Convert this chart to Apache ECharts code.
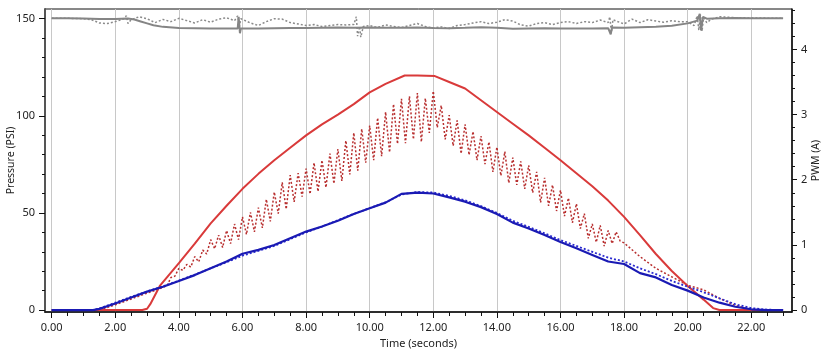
<!DOCTYPE html>
<html>
<head>
<meta charset="utf-8">
<script src="https://cdn.jsdelivr.net/npm/echarts@6/dist/echarts.min.js"></script>
<style>
  html, body { margin: 0; padding: 0; background: #fff; }
  #chart { width: 825px; height: 354px; }
</style>
</head>
<body>
<div id="chart"></div>
<script>
// tick values
const xMajorTicks = [0, 2, 4, 6, 8, 10, 12, 14, 16, 18, 20, 22]
const xMinorTicks = [0, 0.5, 1, 1.5, 2, 2.5, 3, 3.5, 4, 4.5, 5, 5.5, 6, 6.5, 7, 7.5, 8, 8.5, 9, 9.5, 10, 10.5, 11, 11.5,
  12, 12.5, 13, 13.5, 14, 14.5, 15, 15.5, 16, 16.5, 17, 17.5, 18, 18.5, 19, 19.5, 20, 20.5, 21, 21.5, 22, 22.5, 23]
const psiTicks = [0, 50, 100, 150]
const psiMinorTicks = [0, 10, 20, 30, 40, 50, 60, 70, 80, 90, 100, 110, 120, 130, 140, 150]
const ampTicks = [0, 1, 2, 3, 4]
const ampMinorTicks = [0, 0.2, 0.4, 0.6, 0.8, 1, 1.2, 1.4, 1.6, 1.8, 2, 2.2, 2.4, 2.6, 2.8, 3, 3.2, 3.4, 3.6, 3.8, 4, 4.2, 4.4, 4.6]

// supply pressure (PSI)
const supplyTime = [0, 0.5, 1, 1.5, 2, 2.4, 2.6, 2.8, 3.0, 3.2, 3.5, 4.0, 4.5, 5, 5.5, 5.85, 5.88, 5.92, 5.95, 6.5, 7, 7.5, 8,
  8.5, 9, 9.5, 10, 10.5, 11, 11.5, 12, 12.5, 13, 13.5, 14, 14.5, 15, 15.5, 16, 16.5, 17, 17.5, 17.58, 17.62, 18, 18.5, 19,
  19.5, 20, 20.3, 20.38, 20.42, 20.48, 20.6, 21, 21.5, 22, 22.5, 23]
const supplyPsi = [150.3, 150.2, 150.1, 149.9, 149.8, 150.1, 149.6, 148.6, 147.6, 146.6, 145.8, 145.2, 145.1, 145, 145, 145,
  151, 142.5, 145, 144.9, 145.1, 145.2, 145.2, 145.4, 145.5, 145.3, 145.5, 145.4, 145.3, 145.5, 145.2, 145.1, 145.3, 145.6,
  145.4, 144.8, 145, 145.1, 145, 145, 145, 145.1, 142, 145.5, 145.3, 145.6, 145.9, 146.4, 147.6, 149, 152.5, 144, 151, 150,
  150.3, 150.4, 150.3, 150.2, 150.2]

const supplyFbTime = [0, 0.5, 1, 1.25, 1.5, 1.75, 2, 2.25, 2.35, 2.4, 2.5, 2.75, 3, 3.25, 3.5, 3.75, 4, 4.25, 4.5, 4.75, 5,
  5.25, 5.5, 5.75, 5.85, 5.9, 5.95, 6.25, 6.5, 6.75, 7, 7.25, 7.5, 7.75, 8, 8.25, 8.5, 8.75, 9, 9.25, 9.5, 9.58, 9.62, 9.68,
  9.72, 9.8, 10, 10.25, 10.5, 10.75, 11, 11.25, 11.5, 11.75, 12, 12.25, 12.5, 12.75, 13, 13.25, 13.5, 13.75, 14, 14.25, 14.5,
  14.75, 15, 15.25, 15.5, 15.75, 16, 16.25, 16.5, 16.75, 17, 17.25, 17.5, 17.55, 17.6, 17.65, 17.75, 18, 18.25, 18.5, 18.75,
  19, 19.25, 19.5, 19.75, 20, 20.2, 20.3, 20.35, 20.4, 20.45, 20.5, 20.6, 20.75, 21, 21.25, 21.5, 22, 22.5, 23]
const supplyFbPsi = [150.3, 150.2, 150, 149.5, 147.8, 147.5, 148.5, 149.8, 151.5, 147.5, 149.5, 151, 150, 148, 149.6, 148.5,
  150.2, 149, 147.8, 149.5, 148.2, 149.8, 150.5, 149, 151.5, 146, 150, 147.8, 146.5, 148.5, 150, 149.8, 148, 147.3, 146.5,
  147, 146, 146.5, 147, 146.8, 147, 151, 141, 146, 140.5, 146, 146.5, 145.5, 146.8, 146, 145.5, 146.5, 147.5, 146, 145.2,
  145.8, 145, 146.5, 147, 147.8, 148.5, 147.5, 148.2, 149.5, 148.8, 146.8, 146.2, 147.5, 148, 147, 148, 148.5, 147.5, 148.5,
  148, 149.3, 148, 151, 143, 149.5, 148.8, 147.3, 149.8, 148, 149.5, 148.8, 148.2, 149, 148.5, 148.5, 146.5, 151.5, 144, 152,
  143.5, 150.5, 148, 149.8, 151, 150.8, 150.5, 150.4, 150.3, 150.2]

// PWM command (A)
const pwmTime = [0, 2.85, 3.0, 3.1, 3.4, 4.0, 4.5, 5.0, 5.5, 6.0, 6.5, 7.0, 7.5, 8.0, 8.5, 9.0, 9.5, 10.0, 10.5, 11.1, 11.5,
  12.05, 12.5, 13.0, 13.5, 14.0, 14.5, 15.0, 15.5, 16.0, 16.5, 17.0, 17.5, 18.0, 18.5, 19.0, 19.5, 20.0, 20.5, 20.8, 21.0, 23]
const pwmCmd = [0, 0, 0.02, 0.09, 0.37, 0.72, 1.02, 1.33, 1.6, 1.86, 2.09, 2.3, 2.49, 2.68, 2.85, 3.0, 3.16, 3.34, 3.47, 3.6,
  3.6, 3.59, 3.5, 3.4, 3.22, 3.04, 2.86, 2.68, 2.49, 2.3, 2.1, 1.9, 1.68, 1.43, 1.15, 0.86, 0.6, 0.37, 0.16, 0.03, 0, 0]

// PWM measured current with dither (A)
const currentTime = [0, 1.5, 2.0, 2.5, 3.0, 3.25,
  3.5, 3.625, 3.75, 3.875, 4.0, 4.125, 4.25, 4.375, 4.5, 4.625, 4.75, 4.875, 5.0, 5.125, 5.25, 5.375, 5.5, 5.625, 5.75, 5.875,
  6.0, 6.125, 6.25, 6.375, 6.5, 6.625, 6.75, 6.875, 7.0, 7.125, 7.25, 7.375, 7.5, 7.625, 7.75, 7.875, 8.0, 8.125, 8.25, 8.375,
  8.5, 8.625, 8.75, 8.875, 9.0, 9.125, 9.25, 9.375, 9.5, 9.625, 9.75, 9.875, 10.0, 10.125, 10.25, 10.375, 10.5, 10.625, 10.75,
  10.875, 11.0, 11.125, 11.25, 11.375, 11.5, 11.625, 11.75, 11.875, 12.0, 12.125, 12.25, 12.375, 12.5, 12.625, 12.75, 12.875,
  13.0, 13.125, 13.25, 13.375, 13.5, 13.625, 13.75, 13.875, 14.0, 14.125, 14.25, 14.375, 14.5, 14.625, 14.75, 14.875, 15.0,
  15.125, 15.25, 15.375, 15.5, 15.625, 15.75, 15.875, 16.0, 16.125, 16.25, 16.375, 16.5, 16.625, 16.75, 16.875, 17.0, 17.125,
  17.25, 17.375, 17.5, 17.625, 17.75, 17.875, 18.0, 18.5, 19.0, 19.5, 20.0, 20.5, 21.0, 21.5, 22.0, 22.25, 23]
const currentAmp = [0, 0, 0.08, 0.17, 0.26, 0.3,
  0.35, 0.37, 0.5, 0.52, 0.64, 0.61, 0.7, 0.66, 0.82, 0.74, 0.92, 0.86, 1.08, 0.94, 1.15, 0.96, 1.22, 1.02, 1.32, 1.08,
  1.43, 1.16, 1.5, 1.2, 1.57, 1.26, 1.7, 1.36, 1.81, 1.48, 1.96, 1.55, 2.07, 1.66, 2.1, 1.74, 2.17, 1.78, 2.26, 1.82,
  2.3, 1.88, 2.4, 1.94, 2.47, 1.98, 2.6, 2.08, 2.72, 2.14, 2.78, 2.26, 2.83, 2.3, 2.95, 2.36, 3.04, 2.42, 3.16,
  2.55, 3.24, 2.56, 3.28, 2.62, 3.33, 2.58, 3.25, 2.72, 3.36, 2.8, 3.14, 2.62, 2.99, 2.52, 2.91, 2.4,
  2.85, 2.38, 2.74, 2.3, 2.67, 2.24, 2.58, 2.12, 2.5, 2.06, 2.43, 1.95, 2.34, 1.92, 2.28, 1.86, 2.22,
  1.8, 2.12, 1.65, 2.03, 1.6, 1.92, 1.52, 1.84, 1.44, 1.72, 1.34, 1.63, 1.25, 1.48, 1.1, 1.32, 1.04,
  1.3, 0.98, 1.22, 1.02, 1.2, 1.06, 1.03, 0.82, 0.64, 0.51, 0.38, 0.31, 0.18, 0.07, 0.01, 0, 0]

// pressure command / feedback (PSI)
const pressTime = [0, 1.3, 1.5, 2.0, 2.5, 3.0, 3.5, 4.0, 4.5, 5.0, 5.5, 6.0, 6.5, 7.0, 7.5, 8.0, 8.5, 9.0, 9.5, 10.0, 10.5,
  11.0, 11.5, 12.0, 12.5, 13.0, 13.5, 14.0, 14.5, 15.0, 15.5, 16.0, 16.5, 17.0, 17.5, 18.0, 18.5, 19.0, 19.5, 20.0, 20.5,
  21.0, 21.5, 22.0, 22.5, 23]
const pressCmd = [0, 0, 0.6, 3.4, 6.5, 9.5, 12, 15, 18, 21.5, 25, 29, 31, 33.5, 37, 40.4, 43, 46, 49.5, 52.4, 55.3, 59.8, 60.5,
  60, 58, 55.8, 53, 49.5, 45, 42, 38.6, 35, 31.8, 28.4, 25, 23.7, 19, 16.8, 12.9, 10, 6.5, 3.8, 1.7, 0.4, 0, 0]
const pressFb = [0, 0, 0.8, 3.8, 6.8, 9.6, 12.2, 15.2, 18.3, 21.5, 24.6, 28, 30.5, 33, 36.5, 40, 43, 46.3, 49.5, 52.5, 55.5,
  59.5, 60.8, 60.5, 58.8, 56.5, 53.5, 50, 46, 42.8, 39.5, 36, 33, 30, 27, 25, 21.5, 18.5, 15, 12, 9.2, 6, 3, 1, 0.2, 0]

const pairs = (xs, ys) => xs.map((x, i) => [x, ys[i]])

const font = 'Noto Sans'
const xMin = -0.21
const xMax = 23.28
const psiMin = -1
const psiMax = 155
const ampMin = -0.03
const ampMax = 4.62

const chart = echarts.init(document.getElementById('chart'))

function line(name, xs, ys, yAxisIndex, color, width, type) {
  return {
    name,
    type: 'line',
    xAxisIndex: 0,
    yAxisIndex,
    data: pairs(xs, ys),
    showSymbol: false,
    symbol: 'none',
    lineStyle: { color, width, type },
    emphasis: { disabled: true },
    animation: false
  }
}

chart.setOption({
  animation: false,
  grid: {
    left: 45,
    right: 33,
    top: 9,
    bottom: 42,
    outerBoundsMode: 'none',
    show: true,
    borderColor: '#111',
    borderWidth: 1
  },
  xAxis: [{
    type: 'value',
    min: xMin,
    max: xMax,
    position: 'bottom',
    name: 'Time (seconds)',
    nameLocation: 'middle',
    nameGap: 26,
    nameMoveOverlap: false,
    nameTextStyle: { fontFamily: font, fontSize: 11, color: '#222' },
    axisLine: { show: true, onZero: false, lineStyle: { color: '#111', width: 1.5 } },
    axisTick: { show: true, customValues: xMajorTicks, length: 6, lineStyle: { color: '#111' } },
    axisLabel: {
      customValues: xMajorTicks,
      margin: 10,
      fontFamily: font,
      fontSize: 11,
      color: '#222',
      formatter: v => v.toFixed(2)
    },
    splitLine: { show: true, lineStyle: { color: '#c8c8c8', width: 1 } }
  }, {
    type: 'value',
    min: xMin,
    max: xMax,
    position: 'bottom',
    axisLine: { show: false, onZero: false },
    axisTick: { show: true, customValues: xMinorTicks, length: 4, lineStyle: { color: '#111' } },
    axisLabel: { show: false },
    splitLine: { show: false }
  }],
  yAxis: [{
    type: 'value',
    min: psiMin,
    max: psiMax,
    position: 'left',
    name: 'Pressure (PSI)',
    nameLocation: 'middle',
    nameGap: 28,
    nameMoveOverlap: false,
    nameTextStyle: { fontFamily: font, fontSize: 10.5, color: '#222' },
    axisLine: { show: true, onZero: false, lineStyle: { color: '#555', width: 2 } },
    axisTick: { show: true, customValues: psiTicks, length: 6, lineStyle: { color: '#111' } },
    axisLabel: { customValues: psiTicks, margin: 10, fontFamily: font, fontSize: 11, color: '#222' },
    splitLine: { show: false }
  }, {
    type: 'value',
    min: psiMin,
    max: psiMax,
    position: 'left',
    axisLine: { show: false, onZero: false },
    axisTick: { show: true, customValues: psiMinorTicks, length: 3, lineStyle: { color: '#111' } },
    axisLabel: { show: false },
    splitLine: { show: false }
  }, {
    type: 'value',
    min: ampMin,
    max: ampMax,
    position: 'right',
    name: 'PWM (A)',
    nameLocation: 'middle',
    nameGap: 19,
    nameMoveOverlap: false,
    nameTextStyle: { fontFamily: font, fontSize: 10.5, color: '#222' },
    axisLine: { show: true, onZero: false, lineStyle: { color: '#111', width: 1.5 } },
    axisTick: { show: true, customValues: ampTicks, length: 5, lineStyle: { color: '#111' } },
    axisLabel: { customValues: ampTicks, margin: 9, fontFamily: font, fontSize: 11, color: '#222' },
    splitLine: { show: false }
  }, {
    type: 'value',
    min: ampMin,
    max: ampMax,
    position: 'right',
    axisLine: { show: false, onZero: false },
    axisTick: { show: true, customValues: ampMinorTicks, length: 3, lineStyle: { color: '#111' } },
    axisLabel: { show: false },
    splitLine: { show: false }
  }],
  series: [
    line('Supply feedback', supplyFbTime, supplyFbPsi, 0, '#8a8a8a', 1.5, [2, 2]),
    line('Supply', supplyTime, supplyPsi, 0, '#858585', 2, 'solid'),
    line('PWM current', currentTime, currentAmp, 2, '#b82f2f', 1.5, [2, 2]),
    line('PWM command', pwmTime, pwmCmd, 2, '#d93a3a', 2, 'solid'),
    line('Pressure feedback', pressTime, pressFb, 0, '#2a2ad0', 1.8, [2, 2]),
    line('Pressure command', pressTime, pressCmd, 0, '#1a1ab4', 2.2, 'solid')
  ]
})
</script>
</body>
</html>
